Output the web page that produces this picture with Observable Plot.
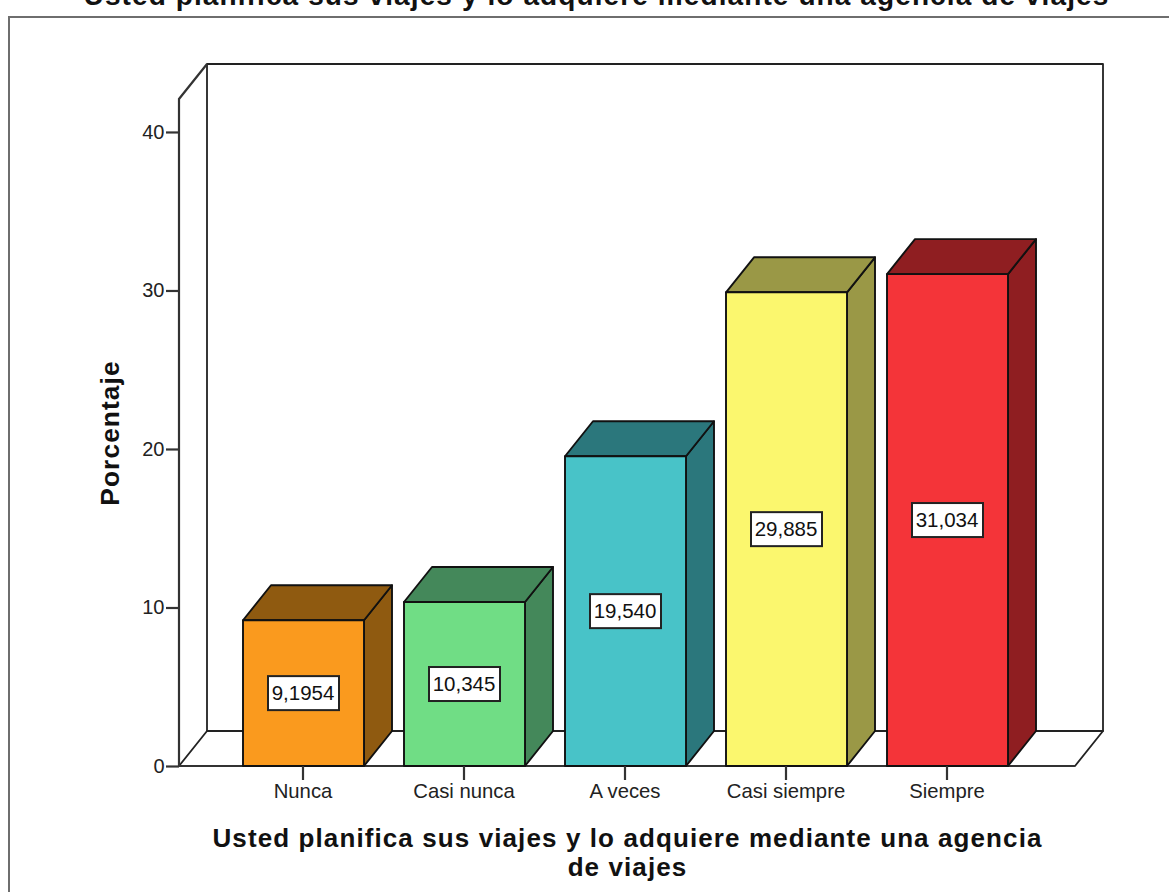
<!DOCTYPE html>
<html><head><meta charset="utf-8">
<style>html,body{margin:0;padding:0;background:#fff;overflow:hidden}svg{display:block}</style>
<script src="https://cdn.jsdelivr.net/npm/d3@7"></script>
<script src="https://cdn.jsdelivr.net/npm/@observablehq/plot@0.6"></script>
</head><body><div id="chart"></div>
<script>
const categories = ["Nunca","Casi nunca","A veces","Casi siempre","Siempre"];
const values = [9.1954,10.345,19.540,29.885,31.034];
const valueLabels = ["9,1954","10,345","19,540","29,885","31,034"];
const frontColors = ["#fa9a1e","#70dd85","#48c3c8","#fbf76e","#f43439"];
const shadeColors = ["#8f5a10","#44885a","#2b777c","#9a9846","#8f1e21"];
const yTicks = [0,10,20,30,40];
const chartTitle = "Usted planifica sus viajes y lo adquiere mediante una agencia de viajes";
const xTitle = "Usted planifica sus viajes y lo adquiere mediante una agencia\nde viajes";
const yTitle = "Porcentaje";

const DX = 28, DY = -35, FONT = "Liberation Sans";
const rows = categories.map((c,i)=>({c,v:values[i],label:valueLabels[i],front:frontColors[i],shade:shadeColors[i]}));
const NS = "http://www.w3.org/2000/svg";
const poly = (g,pts,fill,stroke,sw) => {
  const p = document.createElementNS(NS,"polygon");
  p.setAttribute("points",pts.map(q=>q.join(",")).join(" "));
  p.setAttribute("fill",fill); p.setAttribute("stroke",stroke); p.setAttribute("stroke-width",sw);
  p.setAttribute("stroke-linejoin","round");
  g.appendChild(p);
};
const line = (g,pts,stroke,sw) => {
  const p = document.createElementNS(NS,"polyline");
  p.setAttribute("points",pts.map(q=>q.join(",")).join(" "));
  p.setAttribute("fill","none"); p.setAttribute("stroke",stroke); p.setAttribute("stroke-width",sw);
  g.appendChild(p);
};
function box3d(index, scales, channels, dim) {
  const g = document.createElementNS(NS,"g");
  const L = dim.marginLeft, R = dim.width-dim.marginRight, T = dim.marginTop, B = dim.height-dim.marginBottom;
  const bw = typeof scales.x.bandwidth === "function" ? scales.x.bandwidth() : scales.x.bandwidth;
  // outer gray picture frame
  line(g,[[9,dim.height],[9,17],[dim.width,17]],"#6e6e6e",2);
  // back wall, floor, left wall
  poly(g,[[L+DX,T+DY],[R+DX,T+DY],[R+DX,B+DY],[L+DX,B+DY]],"#fff","#222",1.8);
  poly(g,[[L,B],[R,B],[R+DX,B+DY],[L+DX,B+DY]],"#fff","#222",1.8);
  line(g,[[L,B],[L,T],[L+DX,T+DY]],"#333",2.2);
  line(g,[[L,B],[R,B]],"#333",2.2);
  for (const d of rows) {
    const x0 = scales.x(d.c), x1 = x0+bw, y0 = scales.y(0), y1 = scales.y(d.v);
    poly(g,[[x1,y0],[x1+DX,y0+DY],[x1+DX,y1+DY],[x1,y1]],d.shade,"#111",1.9);
    poly(g,[[x0,y1],[x1,y1],[x1+DX,y1+DY],[x0+DX,y1+DY]],d.shade,"#111",1.9);
    poly(g,[[x0,y0],[x1,y0],[x1,y1],[x0,y1]],d.front,"#111",1.9);
    const r = document.createElementNS(NS,"rect");
    const cx = x0+bw/2, cy = scales.y(d.v/2);
    r.setAttribute("x",cx-35.5); r.setAttribute("y",cy-17); r.setAttribute("width",71); r.setAttribute("height",34);
    r.setAttribute("fill","#fff"); r.setAttribute("stroke","#222"); r.setAttribute("stroke-width",2);
    g.appendChild(r);
  }
  return g;
}
const plot = Plot.plot({
  width:1169, height:892,
  marginLeft:179, marginRight:94, marginTop:99, marginBottom:126,
  insetLeft:63.5, insetRight:66.5,
  style:{background:"#fff",overflow:"hidden"},
  x:{type:"band",domain:categories,paddingInner:0.25,paddingOuter:0,label:null},
  y:{domain:[0,42.08],label:null},
  marks:[
    box3d,
    Plot.axisY({ticks:yTicks,anchor:"left",tickSize:13,tickPadding:2,label:null,tickFormat:d=>String(d),
      fontSize:20,fontFamily:FONT,stroke:"#333",fill:"#222",strokeWidth:2.2}),
    Plot.axisX({anchor:"bottom",tickSize:14,tickPadding:3,label:null,
      fontSize:20.3,fontFamily:FONT,stroke:"#333",fill:"#222",strokeWidth:2.2,textAnchor:"middle",dx:-1}),
    Plot.text(rows,{x:"c",y:d=>d.v/2,text:"label",dx:-1,fontSize:20.5,fontFamily:FONT,fill:"#111"}),
    Plot.text([yTitle],{frameAnchor:"left",textAnchor:"middle",dx:-69,rotate:-90,fontSize:26.3,fontWeight:"bold",fontFamily:FONT,fill:"#111"}),
    Plot.text([xTitle],{frameAnchor:"bottom",dy:86,lineAnchor:"middle",lineHeight:1.1,fontSize:26,fontWeight:"bold",fontFamily:FONT,fill:"#111"}),
    Plot.text([chartTitle],{frameAnchor:"top",dx:-31,dy:-103,lineAnchor:"middle",fontSize:28,fontWeight:"bold",fontFamily:FONT,fill:"#111"})
  ]
});
d3.select(plot).selectAll('g[font-weight="bold"]').style("letter-spacing","1.1px");
document.getElementById("chart").appendChild(plot);
</script></body></html>
